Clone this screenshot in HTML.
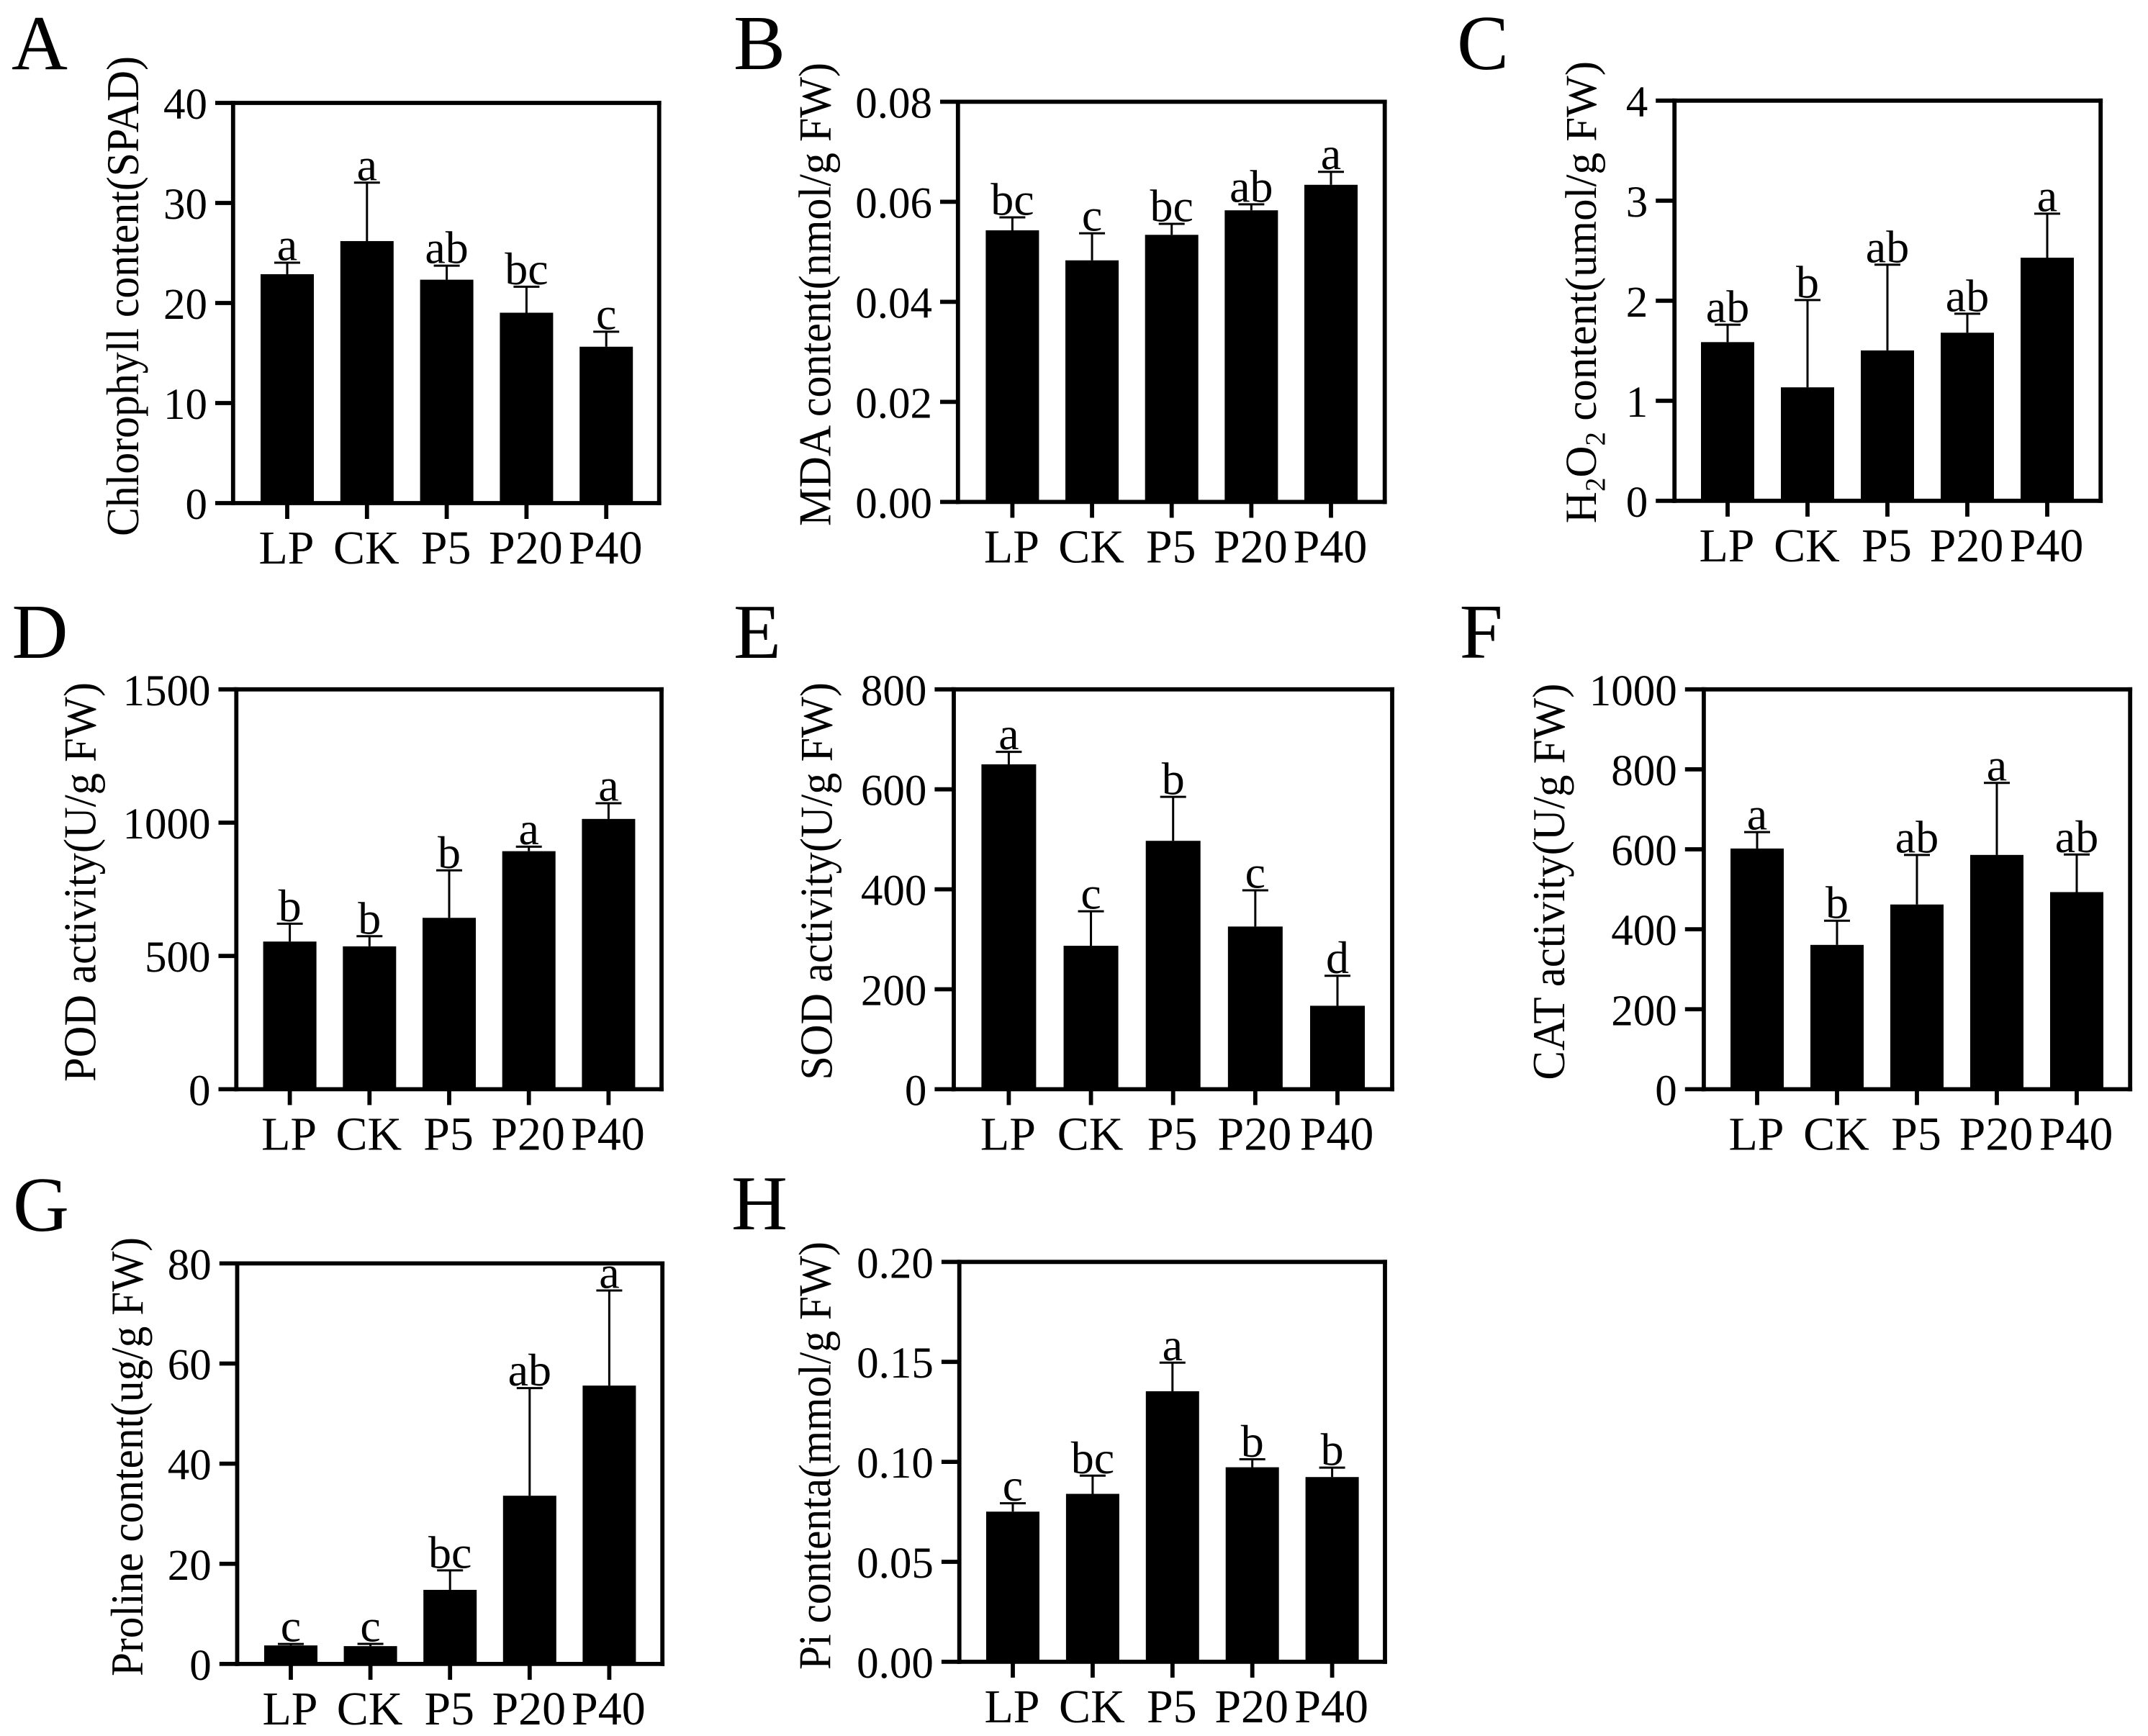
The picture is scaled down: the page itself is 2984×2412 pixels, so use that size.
<!DOCTYPE html>
<html lang="en">
<head>
<meta charset="utf-8">
<title>Physiological indices bar charts</title>
<style>
  html, body { margin: 0; padding: 0; background: #fff; }
  svg { display: block; font-family: "Liberation Serif", "Times New Roman", serif; }
  text { fill: #000; }
</style>
</head>
<body>
<svg id="figure" xmlns="http://www.w3.org/2000/svg" width="2984" height="2412" viewBox="0 0 2984 2412"></svg>
<script>
const categories = ['LP', 'CK', 'P5', 'P20', 'P40'];

const chlorophyllMeans = [22.88, 26.19, 22.33, 19.03, 15.63];
const chlorophyllErrors = [1.15, 5.84, 1.4, 2.6, 1.5];
const chlorophyllLetters = ['a', 'a', 'ab', 'bc', 'c'];
const chlorophyllTicks = ['0', '10', '20', '30', '40'];

const mdaMeans = [0.0543, 0.0483, 0.0534, 0.0583, 0.0634];
const mdaErrors = [0.0026, 0.0054, 0.0022, 0.0012, 0.0026];
const mdaLetters = ['bc', 'c', 'bc', 'ab', 'a'];
const mdaTicks = ['0.00', '0.02', '0.04', '0.06', '0.08'];

const h2o2Means = [1.586, 1.134, 1.503, 1.68, 2.43];
const h2o2Errors = [0.174, 0.873, 0.857, 0.19, 0.44];
const h2o2Letters = ['ab', 'b', 'ab', 'ab', 'a'];
const h2o2Ticks = ['0', '1', '2', '3', '4'];

const podMeans = [554, 536, 643, 893, 1014];
const podErrors = [67, 38, 178, 17, 59];
const podLetters = ['b', 'b', 'b', 'a', 'a'];
const podTicks = ['0', '500', '1000', '1500'];

const sodMeans = [650, 287, 497, 325.5, 167];
const sodErrors = [25, 69, 88, 72.5, 60];
const sodLetters = ['a', 'c', 'b', 'c', 'd'];
const sodTicks = ['0', '200', '400', '600', '800'];

const catMeans = [602, 361, 462, 586, 493];
const catErrors = [41, 60.5, 124, 180, 94];
const catLetters = ['a', 'b', 'ab', 'a', 'ab'];
const catTicks = ['0', '200', '400', '600', '800', '1000'];

const prolineMeans = [3.7, 3.56, 14.8, 33.6, 55.6];
const prolineErrors = [0.3, 0.45, 3.9, 21.5, 19];
const prolineLetters = ['c', 'c', 'bc', 'ab', 'a'];
const prolineTicks = ['0', '20', '40', '60', '80'];

const piMeans = [0.0751, 0.084, 0.1353, 0.0973, 0.0924];
const piErrors = [0.0042, 0.0091, 0.0143, 0.004, 0.0047];
const piLetters = ['c', 'bc', 'a', 'b', 'b'];
const piTicks = ['0.00', '0.05', '0.10', '0.15', '0.20'];

const panels = [
  { key: 'a', letter: 'A', lx: 16, ly: 96, means: chlorophyllMeans, errors: chlorophyllErrors, letters: chlorophyllLetters, ticks: chlorophyllTicks,
    xL: 323.8, xR: 915.7, yT: 143, yB: 699, tickL: 299, first: 399, step: 110.8, barW: 74,
    title: 'Chlorophyll content(SPAD)', tx: 192, tFrom: 745, tTo: 78 },
  { key: 'b', letter: 'B', lx: 1019, ly: 96, means: mdaMeans, errors: mdaErrors, letters: mdaLetters, ticks: mdaTicks,
    xL: 1330.8, xR: 1923.7, yT: 141.4, yB: 697.4, tickL: 1306, first: 1406.4, step: 110.65, barW: 74,
    title: 'MDA content(nmol/g FW)', tx: 1153.4, tFrom: 731, tTo: 87 },
  { key: 'c', letter: 'C', lx: 2024, ly: 96, means: h2o2Means, errors: h2o2Errors, letters: h2o2Letters, ticks: h2o2Ticks,
    xL: 2326.2, xR: 2918.2, yT: 139.8, yB: 695.8, tickL: 2300.2, first: 2400, step: 111, barW: 74,
    title: null, tx: 2217, tFrom: 725, tTo: 87 },
  { key: 'd', letter: 'D', lx: 16.5, ly: 914, means: podMeans, errors: podErrors, letters: podLetters, ticks: podTicks,
    xL: 328.3, xR: 919, yT: 957.8, yB: 1513.4, tickL: 303.5, first: 402.6, step: 110.7, barW: 74,
    title: 'POD activity(U/g FW)', tx: 132.4, tFrom: 1503, tTo: 948 },
  { key: 'e', letter: 'E', lx: 1019, ly: 914, means: sodMeans, errors: sodErrors, letters: sodLetters, ticks: sodTicks,
    xL: 1325, xR: 1934, yT: 957.8, yB: 1513.4, tickL: 1298.4, first: 1401.4, step: 114.15, barW: 76,
    title: 'SOD activity(U/g FW)', tx: 1155.3, tFrom: 1500.6, tTo: 948 },
  { key: 'f', letter: 'F', lx: 2027.6, ly: 914, means: catMeans, errors: catErrors, letters: catLetters, ticks: catTicks,
    xL: 2366.9, xR: 2959.2, yT: 957.8, yB: 1513.4, tickL: 2340.8, first: 2441, step: 111, barW: 74,
    title: 'CAT activity(U/g FW)', tx: 2173, tFrom: 1500.6, tTo: 949.6 },
  { key: 'g', letter: 'G', lx: 18, ly: 1710, means: prolineMeans, errors: prolineErrors, letters: prolineLetters, ticks: prolineTicks,
    xL: 329.5, xR: 920.2, yT: 1755.4, yB: 2311.9, tickL: 304.8, first: 404, step: 110.6, barW: 74,
    title: 'Proline content(ug/g FW)', tx: 197.8, tFrom: 2329, tTo: 1719 },
  { key: 'h', letter: 'H', lx: 1016, ly: 1708, means: piMeans, errors: piErrors, letters: piLetters, ticks: piTicks,
    xL: 1332.7, xR: 1924, yT: 1753.3, yB: 2308.9, tickL: 1307.9, first: 1407, step: 110.9, barW: 74,
    title: 'Pi contenta(mmol/g FW)', tx: 1153.4, tFrom: 2320, tTo: 1725 }
];

const NS = 'http://www.w3.org/2000/svg';
const figure = document.getElementById('figure');
const AXIS_W = 5.8;
const ERR_W = 3;
const CAP_W = 36;

function make(parent, tag, attrs, content) {
  const node = document.createElementNS(NS, tag);
  for (const k in attrs) node.setAttribute(k, attrs[k]);
  if (content !== undefined) node.textContent = content;
  parent.appendChild(node);
  return node;
}

function axisLine(parent, x1, y1, x2, y2, width) {
  return make(parent, 'line', { x1: x1, y1: y1, x2: x2, y2: y2, stroke: '#000', 'stroke-width': width, 'stroke-linecap': 'square' });
}

panels.forEach(function (p) {
  const maxValue = parseFloat(p.ticks[p.ticks.length - 1]);
  const yScale = function (v) { return p.yB - (v / maxValue) * (p.yB - p.yT); };
  const xScale = function (i) { return p.first + i * p.step; };

  const group = make(figure, 'g', {});
  
  

  const panelLetter = make(group, 'text', { x: p.lx, y: p.ly, 'font-size': 108 }, p.letter);
  
  

  // bars first so the axes sit on top
  p.means.forEach(function (v, i) {
    const cx = xScale(i);
    const top = yScale(v);
    const errTop = yScale(v + p.errors[i]);

    const bar = make(group, 'rect', { x: cx - p.barW / 2, y: top, width: p.barW, height: p.yB - top, fill: '#000' });
    
    

    const stem = make(group, 'line', { x1: cx, y1: top, x2: cx, y2: errTop, stroke: '#000', 'stroke-width': ERR_W });
    
    

    const cap = make(group, 'line', { x1: cx - CAP_W / 2, y1: errTop, x2: cx + CAP_W / 2, y2: errTop, stroke: '#000', 'stroke-width': ERR_W });
    
    

    const sig = make(group, 'text', { x: cx, y: errTop - 3.5, 'font-size': 64, 'text-anchor': 'middle' }, p.letters[i]);
    
    

    const xTick = axisLine(group, cx, p.yB, cx, p.yB + 22, AXIS_W);
    xTick.setAttribute('stroke-linecap', 'butt');
    
    

    const xLabel = make(group, 'text', { x: cx - 1, y: p.yB + 84, 'font-size': 66, 'text-anchor': 'middle' }, categories[i]);
    
    
  });

  const frameLeft = axisLine(group, p.xL, p.yT, p.xL, p.yB, AXIS_W);
  
  
  const frameRight = axisLine(group, p.xR, p.yT, p.xR, p.yB, AXIS_W);
  
  
  const frameTop = axisLine(group, p.xL, p.yT, p.xR, p.yT, AXIS_W);
  
  
  const frameBottom = axisLine(group, p.xL, p.yB, p.xR, p.yB, AXIS_W);
  
  

  p.ticks.forEach(function (label) {
    const y = yScale(parseFloat(label));
    const tick = axisLine(group, p.tickL, y, p.xL, y, AXIS_W);
    tick.setAttribute('stroke-linecap', 'butt');
    
    
    const tickLabel = make(group, 'text', { x: p.tickL - 11, y: y + 22, 'font-size': 61, 'text-anchor': 'end' }, label);
    
    
  });

  const midY = (p.tFrom + p.tTo) / 2;
  const yTitle = make(group, 'text', {
    x: p.tx, y: midY, 'font-size': 63, 'text-anchor': 'middle',
    transform: 'rotate(-90 ' + p.tx + ' ' + midY + ')'
  });
  
  
  if (p.title) {
    yTitle.textContent = p.title;
    yTitle.setAttribute('textLength', p.tFrom - p.tTo);
    yTitle.setAttribute('lengthAdjust', 'spacingAndGlyphs');
  } else {
    yTitle.setAttribute('font-size', '61');
    make(yTitle, 'tspan', {}, 'H');
    make(yTitle, 'tspan', { 'font-size': 39, dy: 12 }, '2');
    make(yTitle, 'tspan', { dy: -12 }, 'O');
    make(yTitle, 'tspan', { 'font-size': 39, dy: 12 }, '2');
    make(yTitle, 'tspan', { dy: -12 }, ' content(umol/g FW)');
  }
});
</script>
</body>
</html>
